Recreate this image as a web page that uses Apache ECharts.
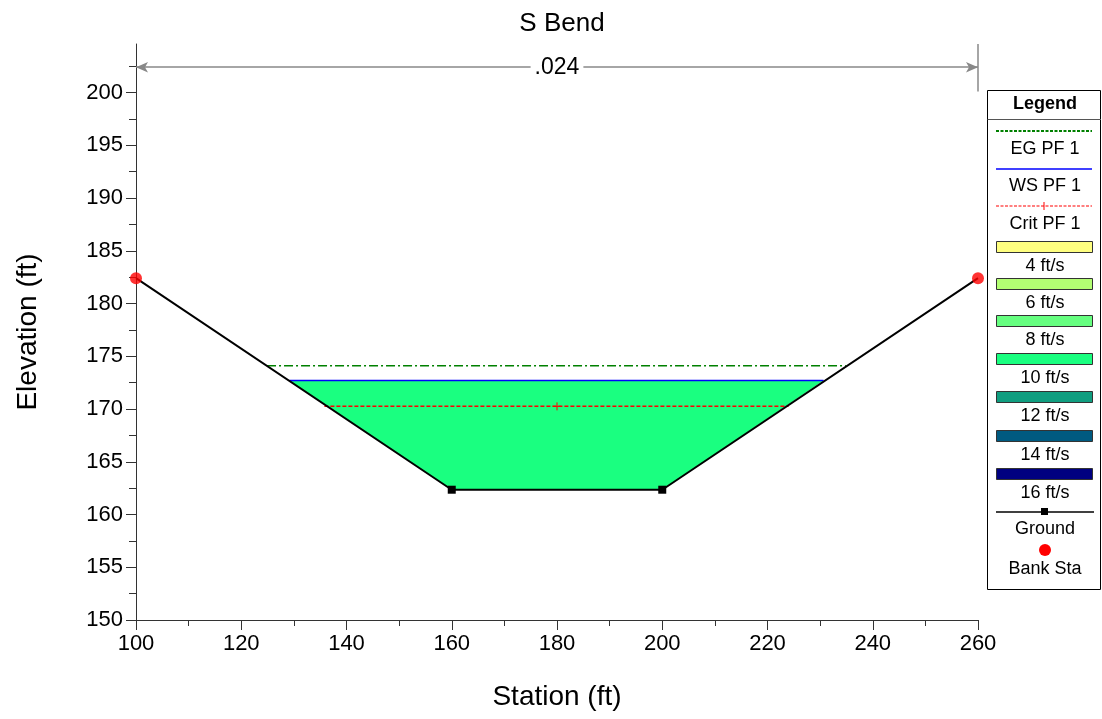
<!DOCTYPE html>
<html><head><meta charset="utf-8">
<script src="https://cdn.jsdelivr.net/npm/echarts@6/dist/echarts.min.js"></script>
<style>html,body{margin:0;padding:0;background:#fff}#c{width:1102px;height:719px}</style>
</head><body><div id="c"></div>
<script>
// ---- data ----
const groundStations = [100, 160, 200, 260];
const groundElev = [182.4, 162.35, 162.35, 182.4];
const groundMarked = [false, true, true, false];
const bankStations = [100, 260];
const bankElev = [182.4, 182.4];
const egStations = [124.9, 234.9];
const egElev = 174.1;
const wsStations = [129.15, 230.65];
const wsElev = 172.7;
const critStations = [135.8, 180, 224.0];
const critElev = 170.25;
const nValueLabel = '.024';
const nValueStations = [100, 260];
const nValueElev = 202.4;
const nValueTick = [200.1, 204.6];
const waterPolyStations = [129.15, 160, 200, 230.65];
const waterPolyElev = [172.7, 162.35, 162.35, 172.7];
const xTicks = { min: 100, max: 260, interval: 20 };
const yTicks = { min: 150, max: 204.6, interval: 5 };
const yTickValues = [150, 155, 160, 165, 170, 175, 180, 185, 190, 195, 200];
const legendLines = ['EG PF 1', 'WS PF 1', 'Crit PF 1'];
const velocityLabels = ['4 ft/s', '6 ft/s', '8 ft/s', '10 ft/s', '12 ft/s', '14 ft/s', '16 ft/s'];
const velocityColors = ['#FFFF80', '#B3FF73', '#66FF80', '#1AFF80', '#109E80', '#005A80', '#000080'];

const font = '"Liberation Sans", Arial, sans-serif';
const chart = echarts.init(document.getElementById('c'));

// ---- legend graphics ----
const LX = 996, LW = 96;
const g = [];
g.push({type:'rect', shape:{x:987.5,y:90.5,width:113,height:499}, style:{fill:'#fff',stroke:'#000',lineWidth:1}, z:100});
g.push({type:'line', shape:{x1:987.5,y1:119.5,x2:1101,y2:119.5}, style:{stroke:'#555',lineWidth:1}, z:101});
g.push({type:'text', x:1045, y:104, style:{text:'Legend', font:'bold 18px '+font, fill:'#000', align:'center', verticalAlign:'middle'}, z:101});
const lineStyles = [
  {stroke:'#008000', lineDash:[3,1.5], lineWidth:2, y:131},
  {stroke:'#0000FF', lineDash:null, lineWidth:1.5, y:169},
  {stroke:'#FF0000', lineDash:[3,1.5], lineWidth:1.2, y:206}
];
const lineLabelY = [149, 186, 224];
legendLines.forEach((t,i)=>{
  const s = lineStyles[i];
  g.push({type:'line', shape:{x1:LX,y1:s.y,x2:LX+LW,y2:s.y}, style:{stroke:s.stroke,lineWidth:s.lineWidth,lineDash:s.lineDash}, z:101});
  g.push({type:'text', x:1045, y:lineLabelY[i], style:{text:t, font:'18px '+font, fill:'#000', align:'center', verticalAlign:'middle'}, z:101});
});
g.push({type:'line', shape:{x1:1044,y1:202,x2:1044,y2:210}, style:{stroke:'#FF0000',lineWidth:1}, z:101});
const rectY = [241, 278, 315, 353, 391, 430, 468];
velocityLabels.forEach((t,i)=>{
  g.push({type:'rect', shape:{x:LX+0.5,y:rectY[i]+0.5,width:LW,height:11}, style:{fill:velocityColors[i],stroke:'#333',lineWidth:1}, z:101});
  g.push({type:'text', x:1045, y:rectY[i]+25, style:{text:t, font:'18px '+font, fill:'#000', align:'center', verticalAlign:'middle'}, z:101});
});
g.push({type:'line', shape:{x1:LX,y1:512,x2:LX+LW+2,y2:512}, style:{stroke:'#000',lineWidth:1.5}, z:101});
g.push({type:'rect', shape:{x:1041,y:508,width:7,height:7}, style:{fill:'#000'}, z:101});
g.push({type:'text', x:1045, y:529, style:{text:'Ground', font:'18px '+font, fill:'#000', align:'center', verticalAlign:'middle'}, z:101});
g.push({type:'circle', shape:{cx:1045,cy:550,r:6}, style:{fill:'#FF0000'}, z:101});
g.push({type:'text', x:1045, y:569, style:{text:'Bank Sta', font:'18px '+font, fill:'#000', align:'center', verticalAlign:'middle'}, z:101});

const option = {
  animation:false,
  backgroundColor:'#fff',
  title:{text:'S Bend', left:557, top:6, textAlign:'center', textStyle:{fontFamily:font, fontSize:26, fontWeight:'normal', color:'#000'}},
  grid:{left:136, right:124, top:44, bottom:99, containLabel:false},
  xAxis:{type:'value', min:xTicks.min, max:xTicks.max, interval:xTicks.interval,
    name:'Station (ft)', nameLocation:'middle', nameGap:63,
    nameTextStyle:{fontFamily:font, fontSize:28, color:'#000'},
    axisLine:{onZero:false, lineStyle:{color:'#333', width:1}},
    axisTick:{show:true, inside:false, length:10, lineStyle:{color:'#333'}},
    minorTick:{show:true, splitNumber:2, length:6, lineStyle:{color:'#333'}},
    axisLabel:{inside:false, fontFamily:font, fontSize:22, color:'#000', margin:13},
    splitLine:{show:false}},
  yAxis:{type:'value', min:yTicks.min, max:yTicks.max, interval:yTicks.interval,
    name:'Elevation (ft)', nameLocation:'middle', nameGap:94,
    nameTextStyle:{fontFamily:font, fontSize:28, color:'#000'},
    axisLine:{show:true, onZero:false, lineStyle:{color:'#333', width:1}},
    axisTick:{show:true, inside:false, length:10, customValues:yTickValues, lineStyle:{color:'#333'}},
    minorTick:{show:true, splitNumber:2, length:7, lineStyle:{color:'#333'}},
    axisLabel:{inside:false, fontFamily:font, fontSize:22, color:'#000', margin:13, showMaxLabel:false},
    splitLine:{show:false}},
  graphic:g,
  series:[
    {type:'custom', name:'water', z:1, silent:true,
      renderItem:function(params, api){
        const pts = waterPolyStations.map((s,i)=>api.coord([s, waterPolyElev[i]]));
        return {type:'polygon', shape:{points:pts}, style:{fill:velocityColors[3], stroke:null}};
      },
      data:[[0,0]]},
    {type:'line', name:'EG PF 1', z:3, showSymbol:false, data:egStations.map(s=>[s,egElev]),
      lineStyle:{color:'#008000', width:1.5, type:[9,3,2,3]}},
    {type:'line', name:'WS PF 1', z:3, showSymbol:false, data:wsStations.map(s=>[s,wsElev]),
      lineStyle:{color:'#0000FF', width:1.5}},
    {type:'line', name:'Crit PF 1', z:3, data:critStations.map(s=>[s,critElev]),
      symbol:function(v,p){return p.dataIndex===1?'path://M5,0 L5,10 M0,5 L10,5':'none';}, symbolSize:8,
      itemStyle:{color:'#FF0000', borderColor:'#FF0000', borderWidth:1},
      lineStyle:{color:'#FF0000', width:1.5, type:[4,2]}},
    {type:'line', name:'Ground', z:4, data:groundStations.map((s,i)=>[s,groundElev[i]]),
      symbol:function(v,p){return groundMarked[p.dataIndex]?'rect':'none';}, symbolSize:8,
      itemStyle:{color:'#000'}, lineStyle:{color:'#000', width:2}},
    {type:'scatter', name:'Bank Sta', z:5, data:bankStations.map((s,i)=>[s,bankElev[i]]),
      symbol:'circle', symbolSize:12, itemStyle:{color:'#FF0000'}},
    {type:'line', name:'n-value', z:2, data:[], silent:true,
      markLine:{silent:true, symbol:['arrow','arrow'], symbolSize:[8,12], animation:false,
        lineStyle:{color:'#888', width:1.5, type:'solid'},
        label:{show:true, position:'insideMiddle', formatter:nValueLabel, fontFamily:font, fontSize:23, color:'#000', backgroundColor:'#fff', padding:[0,4]},
        data:[[{coord:[nValueStations[0], nValueElev]},{coord:[nValueStations[1], nValueElev]}]]}},
    {type:'line', name:'n-tick', z:2, data:[], silent:true,
      markLine:{silent:true, symbol:['none','none'], animation:false,
        lineStyle:{color:'#888', width:1.5, type:'solid'}, label:{show:false},
        data:[[{coord:[nValueStations[1], nValueTick[0]]},{coord:[nValueStations[1], nValueTick[1]]}]]}}
  ]
};
chart.setOption(option);
</script></body></html>
